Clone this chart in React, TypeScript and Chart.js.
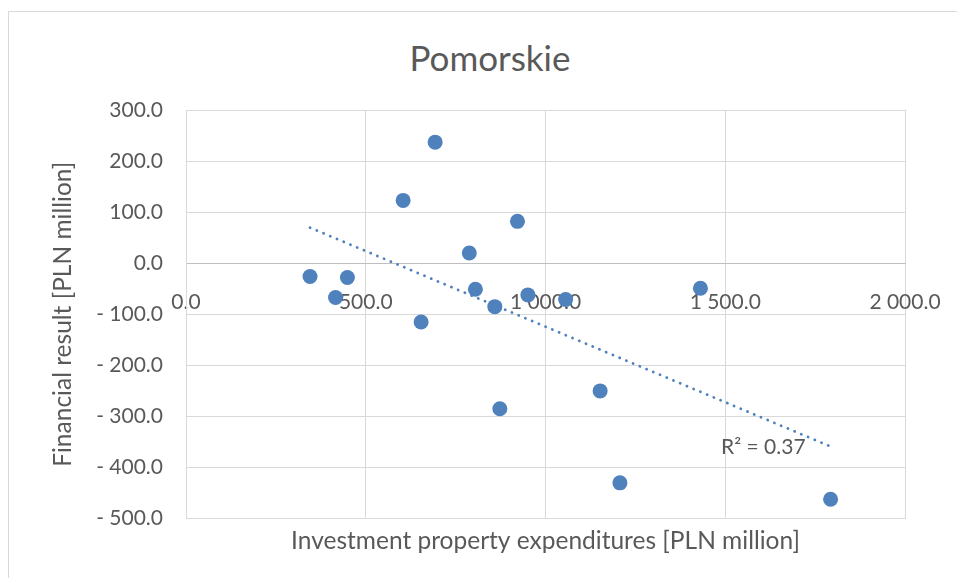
import React, { useEffect, useRef } from "react";
import { Chart, registerables } from "chart.js";

Chart.register(...registerables);

const chartTitle = "Pomorskie";
const xAxisTitle = "Investment property expenditures [PLN million]";
const yAxisTitle = "Financial result [PLN million]";

const expenditures = [345, 416, 449, 604, 693, 654, 788, 805, 859, 922, 951, 1056, 873, 1152, 1207, 1431, 1793];
const financialResult = [-26, -67, -28, 123, 237, -115, 20, -51, -85, 82, -62, -71, -285, -250, -430, -49, -462];

const xTicks = [0, 500, 1000, 1500, 2000];
const yTicks = [-500, -400, -300, -200, -100, 0, 100, 200, 300];

const FONT = "Lato, 'Open Sans', sans-serif";
const TEXT = "#595959";
const BLUE = "#4F81BD";

function fmt(v: number): string {
  const s = Math.abs(v).toFixed(1);
  const [i, d] = s.split(".");
  const ii = i.replace(/\B(?=(\d{3})+(?!\d))/g, " ");
  return (v < 0 ? "- " : "") + ii + "." + d;
}

function regression(xs: number[], ys: number[]) {
  const n = xs.length;
  const mx = xs.reduce((a, b) => a + b, 0) / n;
  const my = ys.reduce((a, b) => a + b, 0) / n;
  let sxy = 0, sxx = 0, syy = 0;
  for (let k = 0; k < n; k++) {
    sxy += (xs[k] - mx) * (ys[k] - my);
    sxx += (xs[k] - mx) ** 2;
    syy += (ys[k] - my) ** 2;
  }
  const b = sxy / sxx;
  const a = my - b * mx;
  return { a, b, r2: (sxy * sxy) / (sxx * syy) };
}

export default function App() {
  const ref = useRef<HTMLCanvasElement | null>(null);

  useEffect(() => {
    if (!ref.current) return;
    const reg = regression(expenditures, financialResult);
    const xMin = Math.min(...expenditures);
    const xMax = Math.max(...expenditures);
    const r2Label = "R² = " + reg.r2.toFixed(2);

    const r2Plugin = {
      id: "r2label",
      afterDatasetsDraw(chart: any) {
        const meta = chart.getDatasetMeta(1);
        const last = meta.data[meta.data.length - 1];
        if (!last) return;
        const ctx = chart.ctx;
        ctx.save();
        ctx.font = `21px ${FONT}`;
        ctx.fillStyle = TEXT;
        ctx.textAlign = "right";
        ctx.textBaseline = "middle";
        ctx.fillText(r2Label, last.x - 25, last.y + 1);
        ctx.restore();
      },
    };

    const chart = new Chart(ref.current, {
      type: "scatter",
      data: {
        datasets: [
          {
            label: "data",
            data: expenditures.map((x, k) => ({ x, y: financialResult[k] })),
            backgroundColor: BLUE,
            borderColor: BLUE,
            borderWidth: 0,
            pointRadius: 7.5,
            order: 1,
          },
          {
            label: "trend",
            type: "line",
            data: [
              { x: xMin, y: reg.a + reg.b * xMin },
              { x: xMax, y: reg.a + reg.b * xMax },
            ],
            borderColor: BLUE,
            borderWidth: 2.8,
            borderDash: [0.1, 7.2],
            borderCapStyle: "round",
            pointRadius: 0,
            fill: false,
            order: 0,
          } as any,
        ],
      },
      options: {
        animation: false,
        responsive: true,
        maintainAspectRatio: false,
        layout: { padding: { left: 40, right: 52, top: 110, bottom: 18 } },
        plugins: {
          legend: { display: false },
          tooltip: { enabled: false },
          title: { display: false },
        },
        scales: {
          x: {
            type: "linear",
            position: "bottom",
            min: 0,
            max: 2000,
            afterBuildTicks: (s: any) => {
              s.ticks = xTicks.map((value) => ({ value }));
            },
            ticks: { display: false },
            grid: { color: "#d9d9d9", lineWidth: 1, drawTicks: false },
            border: { display: false },
            title: {
              display: true,
              text: xAxisTitle,
              color: TEXT,
              font: { family: FONT, size: 24.5 },
              padding: { top: 8, bottom: 4 },
            },
          },
          x2: {
            type: "linear",
            position: { y: 0 } as any,
            min: 0,
            max: 2000,
            afterBuildTicks: (s: any) => {
              s.ticks = xTicks.map((value) => ({ value }));
            },
            ticks: {
              color: TEXT,
              font: { family: FONT, size: 21, lineHeight: 2.95 },
              padding: 8,
              maxRotation: 0,
              autoSkip: false,
              callback: (v: any) => fmt(Number(v)),
            },
            grid: { display: false, drawTicks: false },
            border: { display: true, color: "#bfbfbf", width: 1 },
          },
          y: {
            type: "linear",
            position: "left",
            min: -500,
            max: 300,
            afterBuildTicks: (s: any) => {
              s.ticks = yTicks.map((value) => ({ value }));
            },
            afterFit: (s: any) => {
              s.width = 146;
            },
            ticks: {
              color: TEXT,
              font: { family: FONT, size: 21 },
              padding: 23,
              callback: (v: any) => fmt(Number(v)),
            },
            grid: { color: "#d9d9d9", lineWidth: 1, drawTicks: false },
            border: { display: true, color: "#d9d9d9" },
            title: {
              display: true,
              text: yAxisTitle,
              color: TEXT,
              font: { family: FONT, size: 24.5 },
              padding: { top: 8, bottom: 0 },
            },
          },
        },
      },
      plugins: [r2Plugin],
    });
    return () => chart.destroy();
  }, []);

  return (
    <div style={{ position: "fixed", left: 0, top: 0, width: 957, height: 578, background: "#fff", overflow: "hidden" }}>
      <div
        style={{
          position: "absolute",
          left: 8,
          top: 11,
          width: 980,
          height: 600,
          border: "1px solid #d9d9d9",
          boxSizing: "border-box",
        }}
      />
      <div
        style={{
          position: "absolute",
          left: 0,
          width: 980,
          top: 35,
          textAlign: "center",
          fontFamily: FONT,
          fontSize: 35,
          lineHeight: "44px",
          color: TEXT,
        }}
      >
        {chartTitle}
      </div>
      <div style={{ position: "absolute", left: 0, top: 0, width: 957, height: 578 }}>
        <canvas ref={ref} />
      </div>
    </div>
  );
}
